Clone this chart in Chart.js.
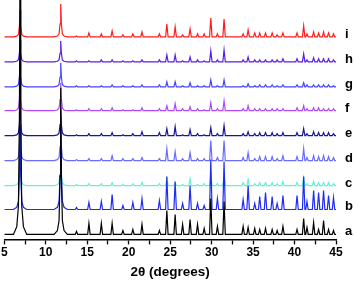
<!DOCTYPE html>
<html>
<head>
<meta charset="utf-8">
<script src="https://cdn.jsdelivr.net/npm/chart.js@4.4.1/dist/chart.umd.min.js"></script>
<style>
  html, body { margin: 0; padding: 0; background: #fff; }
  #wrap { width: 354px; height: 290px; }
</style>
</head>
<body>
<div id="wrap"><canvas id="chart" width="354" height="290"></canvas></div>
<script>
// ========================== DATA ==========================
// peak positions (2θ, degrees), shared by all patterns
const twoTheta = [6.9, 11.8, 13.7, 15.2, 16.7, 18.0, 19.3, 20.5, 21.6, 23.7, 24.6, 25.6, 26.5, 27.4, 28.3, 29.1,
  29.9, 30.7, 31.5, 33.8, 34.4, 35.2, 35.8, 36.5, 37.3, 37.9, 38.6, 40.3, 41.1, 41.5, 42.3, 42.9, 43.5, 44.1, 44.7];

// peak heights per pattern (same order as twoTheta)
const peaksA = [300, 147, 3, 11, 11, 11, 4, 5, 10, 4, 24, 20, 10, 15, 10, 6, 36, 8, 33, 8, 7, 6, 5, 6, 5, 4, 8, 5, 16, 7, 12, 5, 14, 5, 4];
const peaksB = [85, 85, 2, 7, 8, 15, 4, 7, 11, 9, 33, 28, 6, 24, 6, 4, 50, 11, 48, 10, 24, 6, 13, 17, 13, 6, 14, 14, 33, 8, 19, 17, 19, 14, 12];
const peaksC = [30, 30, 1, 2, 2, 3, 1, 2, 3, 2, 7, 3, 1, 7, 1, 2, 12, 2, 10, 3, 6, 2, 3, 3, 3, 2, 4, 3, 8, 2, 4, 3, 3, 3, 2];
const peaksD = [40, 35, 1, 2, 2, 5, 2, 2, 3, 2, 12, 9, 2, 8, 2, 2, 20, 3, 20, 3, 8, 2, 4, 4, 4, 2, 5, 4, 12, 3, 5, 4, 5, 4, 3];
const peaksE = [28, 28, 1, 2, 2, 3, 1, 2, 4, 3, 7, 9, 1, 6, 2, 1, 8, 2, 10, 2, 4, 2, 3, 3, 3, 2, 3, 3, 7, 2, 4, 3, 3, 3, 2];
const peaksF = [28, 28, 1, 2, 2, 3, 1, 1, 3, 2, 5, 7, 2, 4, 2, 1, 8, 2, 10, 2, 5, 2, 2, 2, 2, 2, 2, 3, 5, 2, 3, 3, 2, 2, 2];
const peaksG = [25, 24, 1, 1, 1, 2, 1, 1, 2, 2, 5, 5, 1, 4, 1, 1, 7, 1, 7, 1, 3, 1, 2, 2, 2, 1, 2, 2, 4, 2, 2, 2, 2, 2, 1];
const peaksH = [22, 21, 1, 1, 2, 2, 1, 1, 2, 2, 7, 7, 1, 5, 2, 1, 11, 2, 12, 2, 5, 2, 2, 2, 2, 2, 3, 3, 8, 2, 4, 3, 3, 3, 2];
const peaksI = [27, 33, 1, 4, 3, 6, 2, 3, 5, 3, 13, 10, 2, 8, 3, 3, 19, 3, 18, 3, 7, 4, 4, 4, 4, 2, 4, 4, 11, 3, 5, 4, 5, 4, 3];

const traceNames = ["a", "b", "c", "d", "e", "f", "g", "h", "i"];
const traceOffsets = [5, 30, 54, 79, 104, 129, 153, 178, 203];
const xTicks = [5, 10, 15, 20, 25, 30, 35, 40, 45];

// ========================== STYLE ==========================
const colors = ["#000000", "#1f2bf5", "#62f2d2", "#6a6cff", "#14169e", "#b048f5", "#4444ff", "#5a1fe0", "#ff1c1c"];
// peak profile (dx in degrees, fraction of height)
const mainShape = [[-0.8, 0], [-0.4, 0.026], [-0.2, 0.095], [-0.08, 0.4], [0, 1], [0.08, 0.4], [0.2, 0.095], [0.4, 0.026], [0.8, 0]];
const minorShape = [[-0.15, 0], [0, 1], [0.15, 0]];
const FONT = '"Liberation Sans", Arial, sans-serif';

// ========================== BUILD ==========================
function buildTrace(heights, offset) {
  const pts = [{ x: 5, y: offset }];
  twoTheta.forEach((p, k) => {
    const shape = k < 2 ? mainShape : minorShape;
    shape.forEach(([dx, f]) => pts.push({ x: p + dx, y: offset + f * heights[k] }));
  });
  pts.push({ x: 45, y: offset });
  return pts;
}

const allPeaks = [peaksA, peaksB, peaksC, peaksD, peaksE, peaksF, peaksG, peaksH, peaksI];

const datasets = allPeaks.map((h, i) => ({
  label: traceNames[i],
  data: buildTrace(h, traceOffsets[i]),
  borderColor: colors[i],
  borderWidth: 1.2,
  pointRadius: 0,
  tension: 0,
  fill: false
}));

// letters at the right end of each pattern
const traceLabels = {
  id: "traceLabels",
  afterDatasetsDraw(chart) {
    const { ctx, chartArea, scales: { y } } = chart;
    ctx.save();
    ctx.font = "bold 13px " + FONT;
    ctx.fillStyle = "#000";
    ctx.textAlign = "left";
    ctx.textBaseline = "alphabetic";
    traceNames.forEach((n, i) => {
      ctx.fillText(n, chartArea.right + 9, y.getPixelForValue(traceOffsets[i]) + 1);
    });
    ctx.restore();
  }
};

// ========================== CHART ==========================
new Chart(document.getElementById("chart"), {
  type: "line",
  data: { datasets },
  plugins: [traceLabels],
  options: {
    responsive: false,
    animation: false,
    layout: { padding: { left: 4, right: 18, top: 0, bottom: 6 } },
    plugins: { legend: { display: false }, tooltip: { enabled: false } },
    scales: {
      x: {
        type: "linear",
        min: 5,
        max: 45,
        afterBuildTicks(scale) {
          const t = [];
          for (let v = 5; v <= 45; v += 2.5) t.push({ value: v });
          scale.ticks = t;
        },
        ticks: {
          autoSkip: false,
          maxRotation: 0,
          padding: 1,
          color: "#000",
          font: { family: FONT, size: 12, weight: "bold" },
          callback: v => (xTicks.includes(v) ? v : "")
        },
        grid: {
          display: true,
          drawOnChartArea: false,
          drawTicks: true,
          tickLength: 5,
          tickColor: "#000",
          tickWidth: 1.3
        },
        border: { display: true, color: "#000", width: 1.5 },
        title: {
          display: true,
          text: "2θ (degrees)",
          color: "#000",
          font: { family: FONT, size: 13.5, weight: "bold" },
          padding: { top: 3, bottom: 4 }
        }
      },
      y: {
        display: false,
        min: 0,
        max: 240
      }
    }
  }
});
</script>
</body>
</html>
